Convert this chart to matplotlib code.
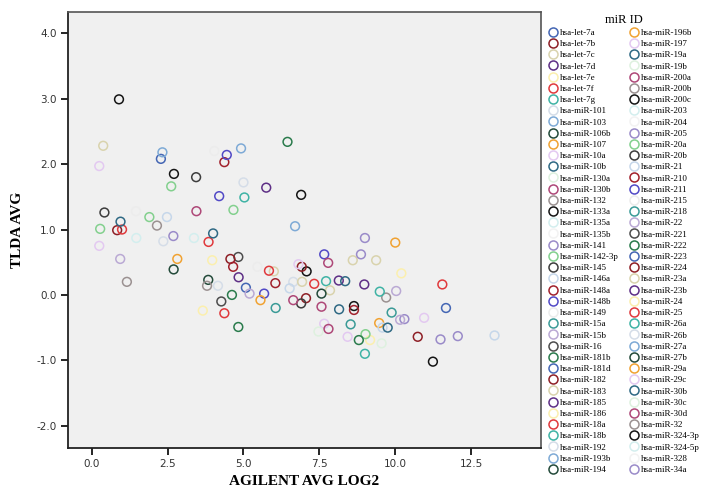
import numpy as np
import matplotlib.pyplot as plt
from matplotlib.lines import Line2D

mir_ids = [
    "hsa-let-7a", "hsa-let-7b", "hsa-let-7c", "hsa-let-7d", "hsa-let-7e",
    "hsa-let-7f", "hsa-let-7g", "hsa-miR-101", "hsa-miR-103", "hsa-miR-106b",
    "hsa-miR-107", "hsa-miR-10a", "hsa-miR-10b", "hsa-miR-130a", "hsa-miR-130b",
    "hsa-miR-132", "hsa-miR-133a", "hsa-miR-135a", "hsa-miR-135b", "hsa-miR-141",
    "hsa-miR-142-3p", "hsa-miR-145", "hsa-miR-146a", "hsa-miR-148a", "hsa-miR-148b",
    "hsa-miR-149", "hsa-miR-15a", "hsa-miR-15b", "hsa-miR-16", "hsa-miR-181b",
    "hsa-miR-181d", "hsa-miR-182", "hsa-miR-183", "hsa-miR-185", "hsa-miR-186",
    "hsa-miR-18a", "hsa-miR-18b", "hsa-miR-192", "hsa-miR-193b", "hsa-miR-194",
    "hsa-miR-196b", "hsa-miR-197", "hsa-miR-19a", "hsa-miR-19b", "hsa-miR-200a",
    "hsa-miR-200b", "hsa-miR-200c", "hsa-miR-203", "hsa-miR-204", "hsa-miR-205",
    "hsa-miR-20a", "hsa-miR-20b", "hsa-miR-21", "hsa-miR-210", "hsa-miR-211",
    "hsa-miR-215", "hsa-miR-218", "hsa-miR-22", "hsa-miR-221", "hsa-miR-222",
    "hsa-miR-223", "hsa-miR-224", "hsa-miR-23a", "hsa-miR-23b", "hsa-miR-24",
    "hsa-miR-25", "hsa-miR-26a", "hsa-miR-26b", "hsa-miR-27a", "hsa-miR-27b",
    "hsa-miR-29a", "hsa-miR-29c", "hsa-miR-30b", "hsa-miR-30c", "hsa-miR-30d",
    "hsa-miR-32", "hsa-miR-324-3p", "hsa-miR-324-5p", "hsa-miR-328", "hsa-miR-34a",
]

# SPSS style colour cycle (30 colours, repeats down the legend)
palette = [
    "#4466b4", "#8e1f26", "#d9d3ad", "#5e2f86", "#fbefae", "#e0393c",
    "#3fb3a5", "#d5dde8", "#7eaad6", "#234a3a", "#f0a232", "#e3c9f1",
    "#2f6984", "#def1df", "#ae4878", "#9b9191", "#141414", "#d3eeee",
    "#f2f2f2", "#9a8bc9", "#83d08e", "#3d3d3d", "#c6d7ea", "#a1212c",
    "#5149c6", "#ececec", "#3b9b97", "#baa9d4", "#4d4d4d", "#2a7b4c",
]

agilent_avg_log2 = [
    0.90, 0.38, 2.33, 2.28, 4.04, 4.45, 4.37, 4.92, 6.45, 0.25,
    2.71, 3.44, 2.62, 5.00, 5.75, 6.90, 4.20, 5.03, 0.42, 4.67,
    3.45, 1.46, 1.90, 2.48, 0.95, 0.28, 0.84, 1.00, 2.15, 1.47,
    2.36, 2.69, 3.37, 4.00, 3.85, 0.25, 6.70, 0.94, 9.00, 10.00,
    7.66, 8.87, 2.82, 2.70, 1.16, 3.97, 4.57, 4.83, 4.66, 5.46,
    5.84, 6.00, 6.81, 6.92, 3.84, 3.80, 4.16, 4.84, 5.08, 5.20,
    5.68, 6.05, 6.52, 6.64, 6.64, 6.90, 4.62, 4.27, 5.56, 6.06,
    3.66, 4.37, 4.83, 8.60, 9.37, 7.79, 7.08, 10.20, 6.93, 7.33,
    7.72, 8.14, 8.35, 8.98, 11.55, 7.57, 7.85, 9.49, 10.03, 9.70,
    7.06, 7.57, 8.15, 8.64, 8.64, 11.67, 9.88, 10.95, 10.16, 10.30,
    9.47, 9.58, 9.75, 7.66, 7.80, 8.53, 8.43, 9.02, 8.80, 9.17,
    9.55, 7.47, 9.00, 10.74, 11.49, 12.06, 13.27, 11.24,
]

tlda_avg = [
    2.99, 2.28, 2.18, 2.08, 2.20, 2.14, 2.03, 2.24, 2.34, 1.97,
    1.85, 1.80, 1.66, 1.72, 1.64, 1.53, 1.51, 1.49, 1.26, 1.30,
    1.28, 1.28, 1.19, 1.19, 1.12, 1.01, 0.99, 1.00, 1.06, 0.87,
    0.82, 0.90, 0.87, 0.94, 0.81, 0.75, 1.05, 0.55, 0.87, 0.80,
    0.62, 0.62, 0.55, 0.39, 0.20, 0.53, 0.55, 0.58, 0.43, 0.43,
    0.37, 0.36, 0.47, 0.43, 0.23, 0.14, 0.14, 0.27, 0.11, 0.02,
    0.02, 0.18, 0.10, 0.20, -0.08, -0.13, 0.00, -0.10, -0.08, -0.20,
    -0.24, -0.28, -0.49, 0.53, 0.53, 0.49, 0.36, 0.33, 0.20, 0.17,
    0.21, 0.22, 0.21, 0.16, 0.16, 0.02, 0.07, 0.05, 0.06, -0.04,
    -0.05, -0.18, -0.22, -0.17, -0.23, -0.20, -0.27, -0.35, -0.38, -0.37,
    -0.43, -0.50, -0.50, -0.44, -0.52, -0.45, -0.64, -0.60, -0.69, -0.69,
    -0.74, -0.56, -0.90, -0.64, -0.68, -0.63, -0.62, -1.02,
]

# index into mir_ids for every point
point_mir = [
    16, 2, 8, 0, 25, 24, 23, 38, 29, 11,
    46, 21, 20, 7, 3, 76, 54, 6, 51, 50,
    14, 55, 20, 22, 12, 50, 1, 5, 15, 17,
    37, 19, 47, 42, 35, 41, 68, 27, 49, 10,
    24, 79, 40, 9, 45, 4, 31, 28, 53, 25,
    65, 32, 71, 61, 39, 75, 67, 33, 30, 57,
    54, 23, 52, 7, 44, 21, 59, 58, 70, 26,
    34, 5, 29, 62, 2, 74, 16, 64, 32, 35,
    36, 63, 72, 3, 65, 69, 62, 66, 27, 15,
    1, 14, 12, 46, 53, 60, 56, 11, 57, 19,
    10, 22, 42, 41, 44, 26, 71, 50, 59, 4,
    13, 43, 6, 31, 49, 79, 52, 76,
]

x_ticks = [0.0, 2.5, 5.0, 7.5, 10.0, 12.5]
y_ticks = [-2.0, -1.0, 0.0, 1.0, 2.0, 3.0, 4.0]

fig = plt.figure(figsize=(7.11, 4.91), dpi=100)
ax = fig.add_axes([0.0952, 0.0876, 0.6657, 0.8886])
ax.set_facecolor("#f0f0f0")

x = np.array(agilent_avg_log2)
y = np.array(tlda_avg)
grp = np.array(point_mir)
for i, name in enumerate(mir_ids):
    sel = grp == i
    if sel.any():
        ax.scatter(x[sel], y[sel], s=40, facecolors="none",
                   edgecolors=palette[i % len(palette)], linewidths=1.1, zorder=3)

ax.set_xlim(-0.79, 14.8)
ax.set_ylim(-2.34, 4.33)
ax.set_xticks(x_ticks)
ax.set_yticks(y_ticks)
ax.set_xticklabels([f"{t:.1f}" for t in x_ticks])
ax.set_yticklabels([f"{t:.1f}" for t in y_ticks])
ax.tick_params(length=5, width=1.2, labelsize=7.5, labelcolor="#333333", pad=3)
for side in ["left", "bottom"]:
    ax.spines[side].set_linewidth(1.3)
    ax.spines[side].set_color("#222222")
for side in ["top", "right"]:
    ax.spines[side].set_linewidth(1.2)
    ax.spines[side].set_color("#555555")

lab_font = dict(family="Liberation Serif", size=11, weight="bold")
ax.set_xlabel("AGILENT AVG LOG2", fontdict=lab_font, labelpad=4)
ax.set_ylabel("TLDA AVG", fontdict=lab_font, labelpad=9)

handles = [
    Line2D([], [], marker="o", ls="none", mfc="none",
           mec=palette[i % len(palette)], ms=6.5, mew=1.1)
    for i in range(len(mir_ids))
]
fig.legend(handles, mir_ids, ncol=2, loc="upper left",
           bbox_to_anchor=(0.762, 0.985), frameon=False, title="miR ID",
           prop=dict(family="Liberation Serif", size=6.5),
           title_fontproperties=dict(family="Liberation Serif", size=9),
           handlelength=1.0, handletextpad=0.3, columnspacing=1.2,
           labelspacing=0.32, borderpad=0.2)

fig.savefig("out.png", dpi=100)
